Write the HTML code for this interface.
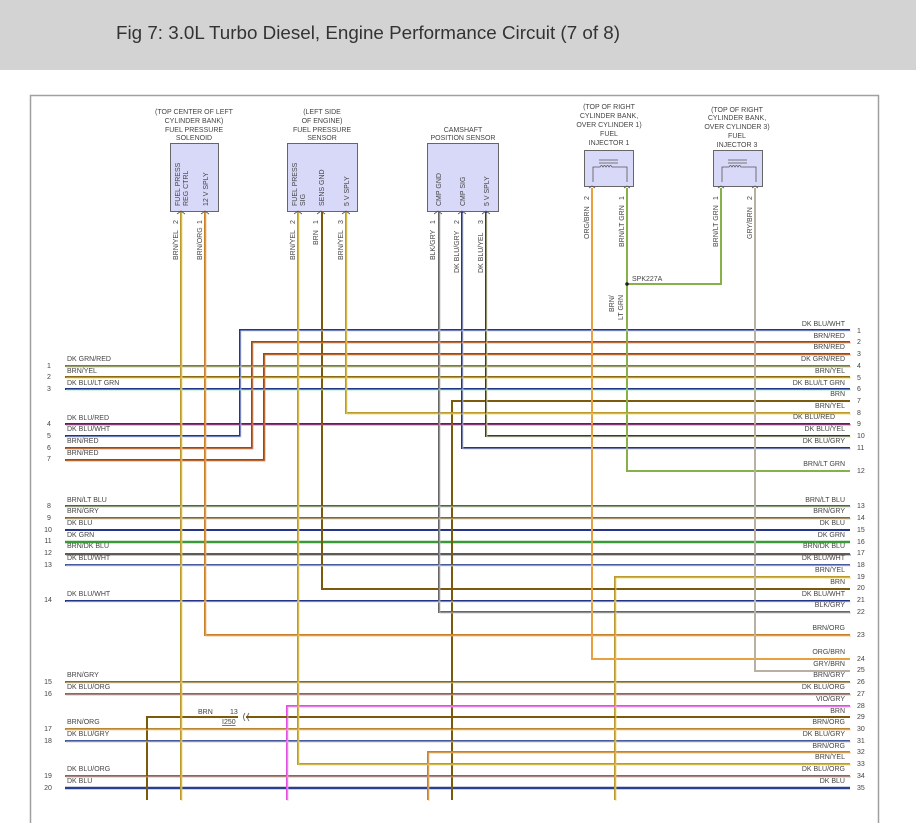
<!DOCTYPE html>
<html><head><meta charset="utf-8"><style>
html,body{margin:0;padding:0;background:#fff;width:916px;height:823px;overflow:hidden}
svg text{font-family:"Liberation Sans",sans-serif;fill:#444}
.t{font-size:7px}
.n{font-size:7px;fill:#555}
</style></head><body>
<svg width="916" height="823" viewBox="0 0 916 823" xmlns="http://www.w3.org/2000/svg">
<rect x="0" y="0" width="916" height="70" fill="#d3d3d3"/>
<text x="116" y="39" style="font-size:18px;fill:#333" textLength="504" lengthAdjust="spacingAndGlyphs">Fig 7: 3.0L Turbo Diesel, Engine Performance Circuit (7 of 8)</text>
<path d="M30.5 823 V95.5 H878.5 V823" fill="none" stroke="#a0a0a0" stroke-width="1.5"/>

<!-- component headers -->
<g class="t" text-anchor="middle">
<text x="194" y="114">(TOP CENTER OF LEFT</text><text x="194" y="123">CYLINDER BANK)</text><text x="194" y="132">FUEL PRESSURE</text><text x="194" y="140">SOLENOID</text>
<text x="322" y="114">(LEFT SIDE</text><text x="322" y="123">OF ENGINE)</text><text x="322" y="132">FUEL PRESSURE</text><text x="322" y="140">SENSOR</text>
<text x="463" y="132">CAMSHAFT</text><text x="463" y="140">POSITION SENSOR</text>
<text x="609" y="109">(TOP OF RIGHT</text><text x="609" y="118">CYLINDER BANK,</text><text x="609" y="127">OVER CYLINDER 1)</text><text x="609" y="136">FUEL</text><text x="609" y="145">INJECTOR 1</text>
<text x="737" y="112">(TOP OF RIGHT</text><text x="737" y="120">CYLINDER BANK,</text><text x="737" y="129">OVER CYLINDER 3)</text><text x="737" y="138">FUEL</text><text x="737" y="147">INJECTOR 3</text>
</g>
<g fill="#d8d8f8" stroke="#666" stroke-width="1">
<rect x="170.5" y="143.5" width="48" height="68"/>
<rect x="287.5" y="143.5" width="70" height="68"/>
<rect x="427.5" y="143.5" width="71" height="68"/>
<rect x="584.5" y="150.5" width="49" height="36"/>
<rect x="713.5" y="150.5" width="49" height="36"/>
</g>
<!-- injector coils -->
<g fill="none" stroke="#555" stroke-width="0.8">
<path d="M599 160 H618 M599 163 H618 M593 182 V167 H600 q1.5 -3 3 0 q1.5 -3 3 0 q1.5 -3 3 0 q1.5 -3 3 0 H627 V182"/>
<path d="M728 160 H747 M728 163 H747 M722 182 V167 H729 q1.5 -3 3 0 q1.5 -3 3 0 q1.5 -3 3 0 q1.5 -3 3 0 H756 V182"/>
<path d="M177 214 l4 -3 l4 3 M201 214 l4 -3 l4 3 M294 214 l4 -3 l4 3 M317 214 l4 -3 l4 3 M342 214 l4 -3 l4 3 M434 214 l4 -3 l4 3 M458 214 l4 -3 l4 3 M482 214 l4 -3 l4 3 M589 188 l3 -2 l3 2 M624 188 l3 -2 l3 2 M718 188 l3 -2 l3 2 M752 188 l3 -2 l3 2"/>
</g>
<!-- inner rotated box labels -->
<g class="t">
<text transform="translate(180,206) rotate(-90)">FUEL PRESS</text>
<text transform="translate(188,206) rotate(-90)">REG CTRL</text>
<text transform="translate(208,206) rotate(-90)">12 V SPLY</text>
<text transform="translate(297,206) rotate(-90)">FUEL PRESS</text>
<text transform="translate(305,206) rotate(-90)">SIG</text>
<text transform="translate(324,206) rotate(-90)">SENS GND</text>
<text transform="translate(349,206) rotate(-90)">5 V SPLY</text>
<text transform="translate(441,206) rotate(-90)">CMP GND</text>
<text transform="translate(465,206) rotate(-90)">CMP SIG</text>
<text transform="translate(489,206) rotate(-90)">5 V SPLY</text>
</g>
<!-- pin numbers and wire labels (vertical) -->
<g class="t">
<text transform="translate(178,224) rotate(-90)">2</text><text transform="translate(178,260) rotate(-90)">BRN/YEL</text>
<text transform="translate(202,224) rotate(-90)">1</text><text transform="translate(202,260) rotate(-90)">BRN/ORG</text>
<text transform="translate(295,224) rotate(-90)">2</text><text transform="translate(295,260) rotate(-90)">BRN/YEL</text>
<text transform="translate(318,224) rotate(-90)">1</text><text transform="translate(318,245) rotate(-90)">BRN</text>
<text transform="translate(343,224) rotate(-90)">3</text><text transform="translate(343,260) rotate(-90)">BRN/YEL</text>
<text transform="translate(435,224) rotate(-90)">1</text><text transform="translate(435,260) rotate(-90)">BLK/GRY</text>
<text transform="translate(459,224) rotate(-90)">2</text><text transform="translate(459,273) rotate(-90)">DK BLU/GRY</text>
<text transform="translate(483,224) rotate(-90)">3</text><text transform="translate(483,273) rotate(-90)">DK BLU/YEL</text>
<text transform="translate(589,200) rotate(-90)">2</text><text transform="translate(589,239) rotate(-90)">ORG/BRN</text>
<text transform="translate(624,200) rotate(-90)">1</text><text transform="translate(624,247) rotate(-90)">BRN/LT GRN</text>
<text transform="translate(718,200) rotate(-90)">1</text><text transform="translate(718,247) rotate(-90)">BRN/LT GRN</text>
<text transform="translate(752,200) rotate(-90)">2</text><text transform="translate(752,239) rotate(-90)">GRY/BRN</text>
<text transform="translate(614,312) rotate(-90)">BRN/</text>
<text transform="translate(623,320) rotate(-90)">LT GRN</text>
</g>
<text class="t" x="632" y="281">SPK227A</text>

<!-- wires: base + stripe -->
<g fill="none" stroke-width="2">
<!-- straight through rows -->
<polyline points="850,366 65,366" stroke="#3f9a3f"/>
<polyline points="850,377 65,377" stroke="#8a6a12"/>
<polyline points="850,389 65,389" stroke="#22358a"/>
<polyline points="850,424 65,424" stroke="#22358a"/>
<polyline points="850,506 65,506" stroke="#7b5b0b"/>
<polyline points="850,518 65,518" stroke="#8a6a12"/>
<polyline points="850,530 65,530" stroke="#22358a"/>
<polyline points="850,542 65,542" stroke="#3a9a3a" stroke-width="2.6"/>
<polyline points="850,554 65,554" stroke="#7b5b0b"/>
<polyline points="850,565 65,565" stroke="#4a5aa0"/>
<polyline points="850,601 65,601" stroke="#22358a"/>
<polyline points="850,682 65,682" stroke="#8a6a12"/>
<polyline points="850,694 65,694" stroke="#6a6aa0"/>
<polyline points="850,729 65,729" stroke="#b88830"/>
<polyline points="850,741 65,741" stroke="#4a5aa0"/>
<polyline points="850,776 65,776" stroke="#6a6aa0"/>
<polyline points="850,788 65,788" stroke="#2b3f90" stroke-width="2.6"/>
<!-- routed -->
<polyline points="850,330 240,330 240,436 65,436" stroke="#22358a"/>
<polyline points="850,342 252,342 252,448 65,448" stroke="#7b5b0b"/>
<polyline points="850,354 264,354 264,460 65,460" stroke="#7b5b0b"/>
<polyline points="850,401 452,401 452,800" stroke="#7b5b0b"/>
<polyline points="850,413 346,413 346,212" stroke="#b89a30"/>
<polyline points="850,436 486,436 486,212" stroke="#22358a"/>
<polyline points="850,448 462,448 462,212" stroke="#22358a"/>
<polyline points="850,471 627,471 627,188" stroke="#88b048"/>
<polyline points="627,284 721,284 721,188" stroke="#88b048"/>
<polyline points="850,577 615,577 615,800" stroke="#b89a30"/>
<polyline points="850,589 322,589 322,212" stroke="#7b5b0b"/>
<polyline points="850,612 439,612 439,212" stroke="#666"/>
<polyline points="850,635 205,635 205,212" stroke="#c8802a"/>
<polyline points="850,659 592,659 592,188" stroke="#e8a040"/>
<polyline points="850,671 755,671 755,188" stroke="#b8b0a0"/>
<polyline points="850,706 287,706 287,800" stroke="#e050e0"/>
<polyline points="850,717 246,717" stroke="#7b5b0b"/>
<polyline points="238,717 147,717 147,800" stroke="#7b5b0b"/>
<polyline points="850,752 428,752 428,800" stroke="#b88830"/>
<polyline points="850,764 298,764 298,212" stroke="#b89a30"/>
<polyline points="181,212 181,800" stroke="#b89a30"/>
</g>
<!-- stripes -->
<g fill="none" stroke-width="0.9" transform="translate(0.9,0.9)">
<polyline points="850,366 65,366" stroke="#f0a090"/>
<polyline points="850,377 65,377" stroke="#e0cc50"/>
<polyline points="850,389 65,389" stroke="#90e0b0"/>
<polyline points="850,424 65,424" stroke="#e04060"/>
<polyline points="850,506 65,506" stroke="#a0d8f0"/>
<polyline points="850,518 65,518" stroke="#c0c0c0"/>
<polyline points="850,554 65,554" stroke="#4a5aa0"/>
<polyline points="850,565 65,565" stroke="#d0d8f0"/>
<polyline points="850,601 65,601" stroke="#d0d8f0"/>
<polyline points="850,682 65,682" stroke="#d0d0c0"/>
<polyline points="850,694 65,694" stroke="#e0a060"/>
<polyline points="850,729 65,729" stroke="#f0c090"/>
<polyline points="850,741 65,741" stroke="#c0c0c0"/>
<polyline points="850,776 65,776" stroke="#e0a060"/>
<polyline points="850,330 240,330 240,436 65,436" stroke="#c0c8f0"/>
<polyline points="850,342 252,342 252,448 65,448" stroke="#f08070"/>
<polyline points="850,354 264,354 264,460 65,460" stroke="#f07050"/>
<polyline points="850,413 346,413 346,212" stroke="#e8d060"/>
<polyline points="850,436 486,436 486,212" stroke="#f0e060"/>
<polyline points="850,448 462,448 462,212" stroke="#c0c0c0"/>
<polyline points="850,577 615,577 615,800" stroke="#e8d060"/>
<polyline points="850,612 439,612 439,212" stroke="#bbb"/>
<polyline points="850,635 205,635 205,212" stroke="#f0b070"/>
<polyline points="850,706 287,706 287,800" stroke="#f0a0f0"/>
<polyline points="850,752 428,752 428,800" stroke="#f0b070"/>
<polyline points="850,764 298,764 298,212" stroke="#e8d060"/>
<polyline points="181,212 181,800" stroke="#e8d060"/>
</g>
<circle cx="627" cy="284" r="1.8" fill="#222"/>
<path d="M245 713 q-3 4 0 8 M249 713 q-3 4 0 8" fill="none" stroke="#555" stroke-width="0.8"/>
<g class="t"><text x="198" y="714">BRN</text><text x="230" y="714">13</text><text x="222" y="724" text-decoration="underline">I250</text></g>

<!-- right labels -->
<g class="t" text-anchor="end">
<text x="845" y="326">DK BLU/WHT</text><text x="845" y="338">BRN/RED</text><text x="845" y="349">BRN/RED</text>
<text x="845" y="361">DK GRN/RED</text><text x="845" y="373">BRN/YEL</text><text x="845" y="385">DK BLU/LT GRN</text>
<text x="845" y="396">BRN</text><text x="845" y="408">BRN/YEL</text><text x="835" y="419">DK BLU/RED</text>
<text x="845" y="431">DK BLU/YEL</text><text x="845" y="443">DK BLU/GRY</text><text x="845" y="466">BRN/LT GRN</text>
<text x="845" y="502">BRN/LT BLU</text><text x="845" y="513">BRN/GRY</text><text x="845" y="525">DK BLU</text>
<text x="845" y="537">DK GRN</text><text x="845" y="548">BRN/DK BLU</text><text x="845" y="560">DK BLU/WHT</text>
<text x="845" y="572">BRN/YEL</text><text x="845" y="584">BRN</text><text x="845" y="596">DK BLU/WHT</text>
<text x="845" y="607">BLK/GRY</text><text x="845" y="630">BRN/ORG</text>
<text x="845" y="654">ORG/BRN</text><text x="845" y="666">GRY/BRN</text><text x="845" y="677">BRN/GRY</text>
<text x="845" y="689">DK BLU/ORG</text><text x="845" y="701">VIO/GRY</text><text x="845" y="713">BRN</text>
<text x="845" y="724">BRN/ORG</text><text x="845" y="736">DK BLU/GRY</text><text x="845" y="748">BRN/ORG</text>
<text x="845" y="759">BRN/YEL</text><text x="845" y="771">DK BLU/ORG</text><text x="845" y="783">DK BLU</text>
</g>
<g class="n">
<text x="857" y="333">1</text><text x="857" y="344">2</text><text x="857" y="356">3</text><text x="857" y="368">4</text><text x="857" y="380">5</text><text x="857" y="391">6</text><text x="857" y="403">7</text><text x="857" y="415">8</text><text x="857" y="426">9</text><text x="857" y="438">10</text><text x="857" y="450">11</text><text x="857" y="473">12</text>
<text x="857" y="508">13</text><text x="857" y="520">14</text><text x="857" y="532">15</text><text x="857" y="544">16</text><text x="857" y="555">17</text><text x="857" y="567">18</text><text x="857" y="579">19</text><text x="857" y="590">20</text><text x="857" y="602">21</text><text x="857" y="614">22</text><text x="857" y="637">23</text>
<text x="857" y="661">24</text><text x="857" y="672">25</text><text x="857" y="684">26</text><text x="857" y="696">27</text><text x="857" y="708">28</text><text x="857" y="719">29</text><text x="857" y="731">30</text><text x="857" y="743">31</text><text x="857" y="754">32</text><text x="857" y="766">33</text><text x="857" y="778">34</text><text x="857" y="790">35</text>
</g>
<!-- left labels -->
<g class="t">
<text x="67" y="361">DK GRN/RED</text><text x="67" y="373">BRN/YEL</text><text x="67" y="385">DK BLU/LT GRN</text>
<text x="67" y="420">DK BLU/RED</text><text x="67" y="431">DK BLU/WHT</text><text x="67" y="443">BRN/RED</text><text x="67" y="455">BRN/RED</text>
<text x="67" y="502">BRN/LT BLU</text><text x="67" y="513">BRN/GRY</text><text x="67" y="525">DK BLU</text><text x="67" y="537">DK GRN</text><text x="67" y="548">BRN/DK BLU</text><text x="67" y="560">DK BLU/WHT</text>
<text x="67" y="596">DK BLU/WHT</text>
<text x="67" y="677">BRN/GRY</text><text x="67" y="689">DK BLU/ORG</text>
<text x="67" y="724">BRN/ORG</text><text x="67" y="736">DK BLU/GRY</text>
<text x="67" y="771">DK BLU/ORG</text><text x="67" y="783">DK BLU</text>
</g>
<g class="n" text-anchor="middle">
<text x="49" y="368">1</text><text x="49" y="379">2</text><text x="49" y="391">3</text><text x="49" y="426">4</text><text x="49" y="438">5</text><text x="49" y="450">6</text><text x="49" y="461">7</text>
<text x="49" y="508">8</text><text x="49" y="520">9</text><text x="48" y="532">10</text><text x="48" y="543">11</text><text x="48" y="555">12</text><text x="48" y="567">13</text><text x="48" y="602">14</text>
<text x="48" y="684">15</text><text x="48" y="696">16</text><text x="48" y="731">17</text><text x="48" y="743">18</text><text x="48" y="778">19</text><text x="48" y="790">20</text>
</g>
</svg>
</body></html>
